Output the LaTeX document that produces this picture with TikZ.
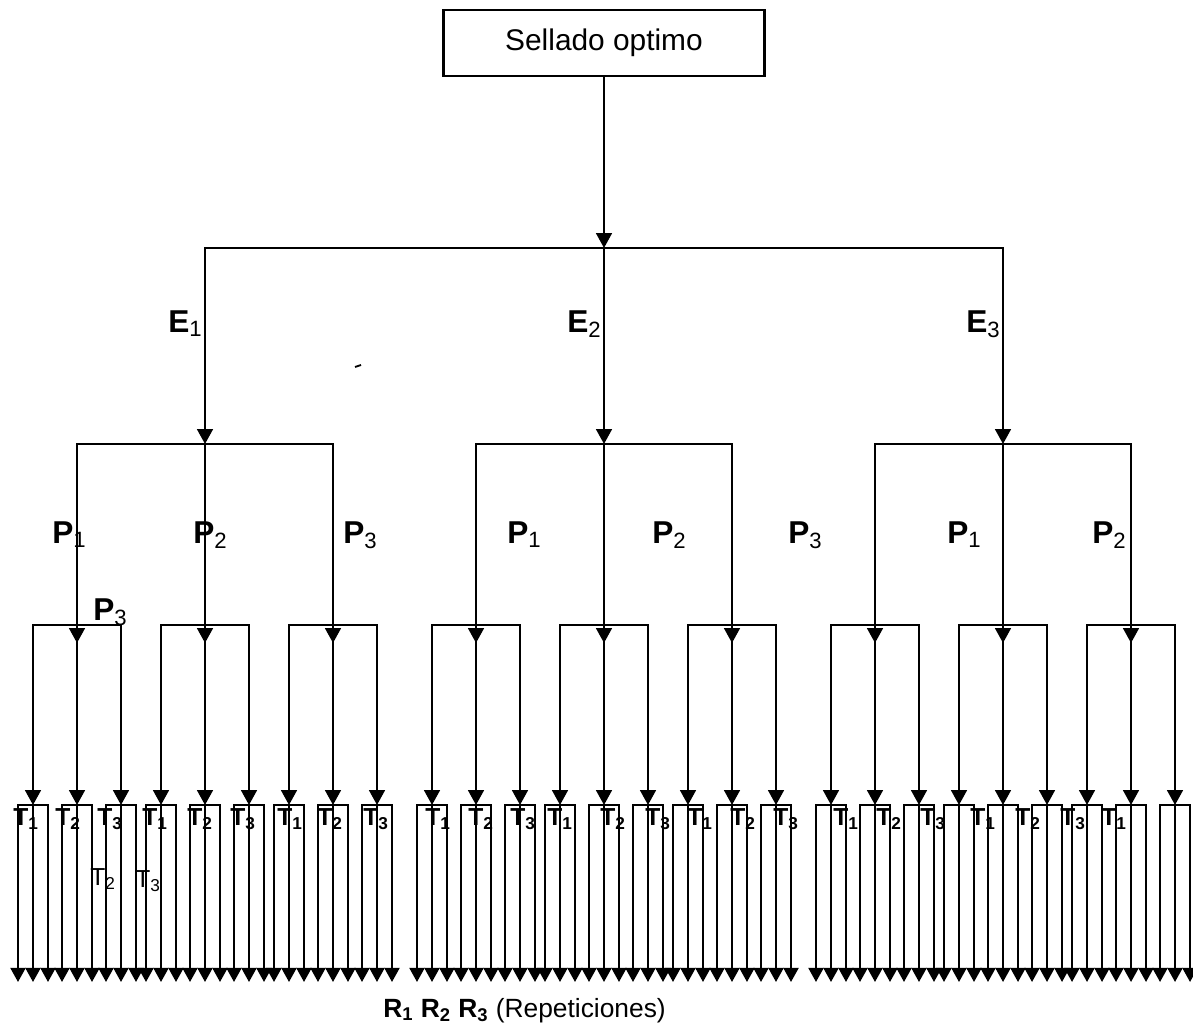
\documentclass[tikz,border=0pt]{standalone}
\usepackage{fontspec}
\setmainfont{Liberation Sans}
\usepackage{tikz}
\usetikzlibrary{arrows.meta}
\tikzset{
  sd box/.style={
    rectangle,
    draw,
    line width=1.2pt,
    minimum width=6.42cm,
    minimum height=1.32cm,
    inner sep=0pt,
    font=\fontsize{17}{20}\selectfont,
  },
  sd line/.style={line width=1.25pt, line cap=rect},
  sd arrow/.style={sd line, -{Triangle[length=8.5pt,width=9pt]}},
  sd leaf/.style={sd line, -{Triangle[length=8pt,width=8.5pt]}},
  sd label/.style={inner sep=0pt, font=\fontsize{18}{20}\selectfont},
  sd tlabel/.style={inner sep=0pt, font=\fontsize{14}{16}\selectfont\bfseries},
  sd stray/.style={inner sep=0pt, font=\fontsize{14}{16}\selectfont},
  sd note/.style={inner sep=0pt, font=\fontsize{15}{17}\selectfont},
}

\begin{document}
\begin{tikzpicture}[x=0.02cm, y=-0.02cm]
  \useasboundingbox (0,0) rectangle (1193,1026);

  \node[sd box] (root) at (604,43) {Sellado optimo};
  \coordinate (hub) at (604,248);
  \draw[sd arrow] (root) -- (hub);

  % E -> P -> T -> R
  \foreach \e in {1,2,3} {
    \pgfmathsetmacro{\ex}{205+399*(\e-1)}
    \coordinate (e\e) at (\ex,248);
    \coordinate (e\e end) at (\ex,444);
    \draw[sd arrow] (e\e) -- (e\e end);
    \node[sd label,anchor=north east] (lbl e\e) at (\ex-2,310) {\textbf{E}\textsubscript{\e}};
    \foreach \p in {1,2,3} {
      \pgfmathsetmacro{\px}{\ex+128*(\p-2)}
      \coordinate (p\e\p) at (\px,444);
      \coordinate (p\e\p end) at (\px,643);
      \draw[sd arrow] (p\e\p) -- (p\e\p end);
      \foreach \t in {1,2,3} {
        \pgfmathsetmacro{\tx}{\px+44*(\t-2)}
        \coordinate (t\e\p\t) at (\tx,625);
        \coordinate (t\e\p\t end) at (\tx,805);
        \draw[sd arrow] (t\e\p\t) -- (t\e\p\t end);
        \foreach \r in {1,2,3} {
          \coordinate (r\e\p\t\r) at (\tx+15*\r-30,805);
          \coordinate (r\e\p\t\r end) at (\tx+15*\r-30,982);
          \draw[sd leaf] (r\e\p\t\r) -- (r\e\p\t\r end);
        }
        \draw[sd line] (r\e\p\t1) -- (r\e\p\t3);
      }
      \draw[sd line] (t\e\p1) -- (t\e\p3);
    }
    \draw[sd line] (p\e1) -- (p\e3);
  }
  \draw[sd line] (e1) -- (e3);

  % labels
  \foreach \x/\n [count=\k] in {52/1,193/2,343/3,507/1,652/2,788/3,947/1,1092/2}
    \node[sd label,anchor=north west] (lbl p\k) at (\x,521) {\textbf{P}\textsubscript{\n}};
  \node[sd label,anchor=north west] (lbl p extra) at (93,598) {\textbf{P}\textsubscript{3}};

  \foreach \x/\n [count=\k] in {13/1,55/2,97/3,142/1,187/2,230/3,277/1,317/2,363/3,
      425/1,468/2,510/3,547/1,600/2,645/3,687/1,730/2,773/3,
      833/1,876/2,920/3,970/1,1015/2,1060/3,1101/1}
    \node[sd tlabel,anchor=north west] (lbl t\k) at (\x,808) {T\textsubscript{\n}};
  \node[sd stray,anchor=north west] (lbl t extra a) at (90,868) {T\textsubscript{2}};
  \node[sd stray,anchor=north west] (lbl t extra b) at (135,870) {T\textsubscript{3}};

  \node[sd note,anchor=base west] (lbl reps) at (383,1017)
    {\textbf{R\textsubscript{1} R\textsubscript{2} R\textsubscript{3}} (Repeticiones)};

  \draw[line width=1pt] (355,367) -- (361,365);
\end{tikzpicture}
\end{document}
